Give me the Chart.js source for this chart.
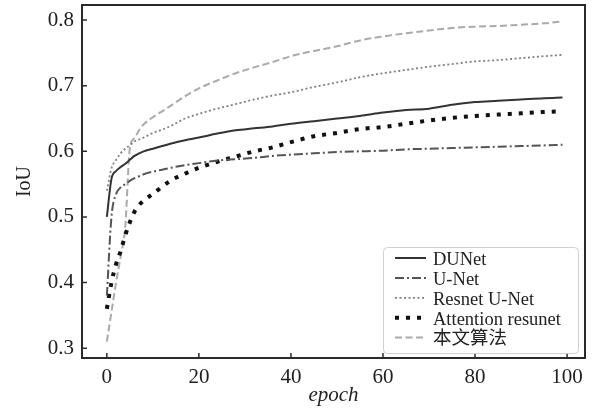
<!DOCTYPE html>
<html>
<head>
<meta charset="utf-8">
<title>IoU vs epoch</title>
<script src="https://cdn.jsdelivr.net/npm/chart.js"></script>
<style>
body { margin:0; background:#fff; }
#chart { display:block; }
</style>
</head>
<body>
<canvas id="chart" width="596" height="411"></canvas>
<script>
// ---------------- DATA ----------------
const epochs    = [0,1,2,3,4,5,6,7,8,10,12,14,17,20,24,28,32,36,40,45,50,55,60,65,70,75,80,85,90,95,99];
const dunet     = [0.50,0.558,0.570,0.576,0.581,0.587,0.593,0.597,0.600,0.604,0.608,0.612,0.617,0.621,0.627,0.632,0.635,0.638,0.642,0.646,0.650,0.654,0.659,0.663,0.665,0.671,0.675,0.677,0.679,0.681,0.682];
const unet      = [0.38,0.50,0.535,0.545,0.55,0.555,0.559,0.562,0.565,0.569,0.572,0.575,0.579,0.582,0.586,0.588,0.590,0.593,0.595,0.597,0.599,0.600,0.601,0.603,0.604,0.605,0.606,0.607,0.608,0.609,0.610];
const resUnet   = [0.54,0.574,0.587,0.597,0.604,0.609,0.615,0.618,0.621,0.628,0.633,0.639,0.650,0.657,0.665,0.672,0.679,0.685,0.690,0.698,0.705,0.713,0.719,0.724,0.729,0.733,0.737,0.739,0.742,0.745,0.747];
const attResunet= [0.36,0.40,0.428,0.448,0.472,0.492,0.508,0.518,0.525,0.535,0.546,0.556,0.566,0.575,0.584,0.592,0.600,0.606,0.614,0.623,0.628,0.634,0.637,0.642,0.647,0.651,0.654,0.656,0.658,0.660,0.661];
const ours      = [0.31,0.355,0.40,0.44,0.485,0.605,0.620,0.632,0.641,0.652,0.661,0.670,0.684,0.696,0.708,0.719,0.728,0.736,0.745,0.753,0.760,0.769,0.775,0.780,0.784,0.788,0.790,0.791,0.793,0.795,0.798];

const names  = ["DUNet","U-Net","Resnet U-Net","Attention resunet","本文算法"];
const xTicks = [0,20,40,60,80,100];
const yTicks = [0.3,0.4,0.5,0.6,0.7,0.8];

const pts = arr => arr.map((v,i)=>({x:epochs[i], y:v}));

Chart.defaults.font.family = "'Liberation Serif','Times New Roman',serif";
Chart.defaults.color = "#222";

// ---------------- FRAME / TICKS / LEGEND ----------------
const decor = {
    id:"decor",
    afterDraw(chart){
        const ctx = chart.ctx;
        const a = chart.chartArea;
        const xs = chart.scales.x, ys = chart.scales.y;
        ctx.save();

        // box
        ctx.strokeStyle = "#2a2a2a";
        ctx.lineWidth = 2;
        ctx.setLineDash([]);
        ctx.strokeRect(a.left, a.top, a.right-a.left, a.bottom-a.top);

        // inward ticks
        ctx.lineWidth = 1.5;
        ctx.beginPath();
        xTicks.forEach(v=>{
            const px = xs.getPixelForValue(v);
            ctx.moveTo(px, a.bottom);
            ctx.lineTo(px, a.bottom-5);
        });
        yTicks.forEach(v=>{
            const py = ys.getPixelForValue(v);
            ctx.moveTo(a.left, py);
            ctx.lineTo(a.left+5, py);
        });
        ctx.stroke();

        // legend
        const bx=383, by=247, bw=195, bh=106;
        ctx.fillStyle = "#fff";
        ctx.strokeStyle = "#d0d0d0";
        ctx.lineWidth = 1;
        ctx.beginPath();
        ctx.roundRect(bx+0.5, by+0.5, bw, bh, 4);
        ctx.fill();
        ctx.stroke();

        ctx.font = "18.5px 'Liberation Serif','Noto Sans CJK SC',serif";
        ctx.textBaseline = "middle";
        ctx.textAlign = "left";
        chart.data.datasets.forEach((ds,i)=>{
            const y = 260 + i*19.9;
            ctx.strokeStyle = ds.borderColor;
            ctx.lineWidth = ds.borderWidth;
            ctx.setLineDash(ds.borderDash || []);
            ctx.beginPath();
            ctx.moveTo(395, y-2);
            ctx.lineTo(426, y-2);
            ctx.stroke();
            ctx.setLineDash([]);
            ctx.fillStyle = "#222";
            ctx.fillText(ds.label, 433, y);
        });
        ctx.restore();
    }
};

new Chart(document.getElementById("chart"), {
    type:"line",
    data:{
        datasets:[
            {label:names[0], data:pts(dunet), borderColor:"#333", borderWidth:2},
            {label:names[1], data:pts(unet), borderColor:"#555", borderWidth:2, borderDash:[9,3,2,3]},
            {label:names[2], data:pts(resUnet), borderColor:"#808080", borderWidth:1.8, borderDash:[2,2.5]},
            {label:names[3], data:pts(attResunet), borderColor:"#111", borderWidth:4, borderDash:[4,7]},
            {label:names[4], data:pts(ours), borderColor:"#aaa", borderWidth:2, borderDash:[7,3.5]}
        ]
    },
    options:{
        responsive:false,
        devicePixelRatio:1,
        animation:false,
        layout:{ padding:{top:5, right:11, left:0, bottom:0} },
        elements:{
            point:{ radius:0 },
            line:{ cubicInterpolationMode:"monotone", fill:false }
        },
        plugins:{ legend:{ display:false }, tooltip:{ enabled:false } },
        scales:{
            x:{
                type:"linear",
                min:-5.4, max:103.9,
                grid:{ display:false, drawTicks:false },
                border:{ display:false },
                afterBuildTicks: s => { s.ticks = xTicks.map(v=>({value:v})); },
                afterFit: s => { s.height = 53; s.paddingLeft = 0; s.paddingRight = 0; },
                ticks:{ font:{size:21}, padding:7, maxRotation:0, color:"#222" },
                title:{ display:true, text:"epoch", font:{size:21, style:"italic"}, padding:{top:0, bottom:3}, color:"#222" }
            },
            y:{
                type:"linear",
                min:0.285, max:0.823,
                grid:{ display:false, drawTicks:false },
                border:{ display:false },
                afterBuildTicks: s => { s.ticks = yTicks.map(v=>({value:v})); },
                afterFit: s => { s.width = 82; s.paddingTop = 0; s.paddingBottom = 0; },
                ticks:{ font:{size:21}, padding:8, color:"#222", callback: v => v.toFixed(1) },
                title:{ display:true, text:"IoU", font:{size:20}, padding:{top:13, bottom:0}, color:"#222" }
            }
        }
    },
    plugins:[decor]
});
</script>
</body>
</html>
